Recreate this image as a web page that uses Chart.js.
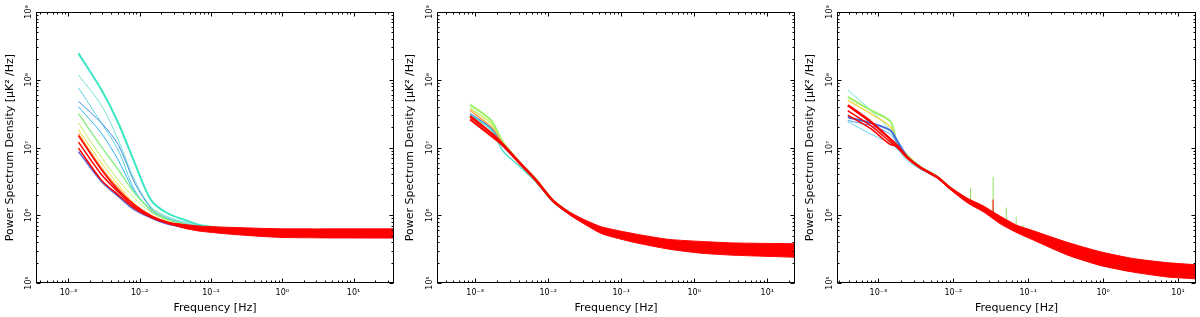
<!DOCTYPE html>
<html>
<head>
<meta charset="utf-8">
<script src="https://cdn.jsdelivr.net/npm/chart.js@4.4.1/dist/chart.umd.min.js"></script>
<style>
  body { margin: 0; background: #fff; }
  .panel { position: absolute; top: 0; width: 400px; height: 317px; }
</style>
</head>
<body>
<div class="panel" style="left:0"><canvas id="c1" width="400" height="317"></canvas></div>
<div class="panel" style="left:400px"><canvas id="c2" width="400" height="317"></canvas></div>
<div class="panel" style="left:800px"><canvas id="c3" width="400" height="317"></canvas></div>
<script>
// tick labels
var xDecades = [1e-3, 1e-2, 1e-1, 1, 10];
var xTickLabels = ['10⁻³', '10⁻²', '10⁻¹', '10⁰', '10¹'];
var yDecades = [1e5, 1e6, 1e7, 1e8, 1e9];
var yTickLabels = ['10⁵', '10⁶', '10⁷', '10⁸', '10⁹'];

// axis limits per panel
var xMin = [3.5e-4, 3.3e-4, 2.8e-4];
var xMax = [37, 24, 17.4];

// ---- panel 1 ----
var freq1 = [1.38e-3, 2.9e-3, 5.0e-3, 8.5e-3, 1.45e-2, 2.45e-2, 4.3e-2, 7.2e-2, 0.21, 1, 37];
var p1Navy   = [8.7e6, 3.16e6, 1.9e6, 1.2e6, 9.1e5, 7.4e5, 6.6e5, 6.2e5, 5.75e5, 5.5e5, 5.4e5];
var p1Cyan   = [2.45e8, 7.1e7, 2.3e7, 5.9e6, 1.66e6, 1.07e6, 8.5e5, 7.1e5, 6.2e5, 5.6e5, 5.5e5];
var p1Cyan2  = [1.17e8, 4.2e7, 1.29e7, 3.3e6, 1.32e6, 9.5e5, 7.9e5, 6.8e5, 6.0e5, 5.6e5, 5.5e5];
var p1Cyan3  = [7.6e7, 2.3e7, 9.1e6, 2.34e6, 1.2e6, 9.1e5, 7.6e5, 6.6e5, 6.0e5, 5.6e5, 5.5e5];
var p1Blue   = [4.8e7, 2.3e7, 1.1e7, 3.0e6, 1.26e6, 8.9e5, 7.4e5, 6.6e5, 6.0e5, 5.6e5, 5.5e5];
var p1Blue2  = [4.0e7, 1.62e7, 6.5e6, 2.2e6, 1.15e6, 8.7e5, 7.3e5, 6.5e5, 6.0e5, 5.6e5, 5.5e5];
var p1Green  = [3.16e7, 1.02e7, 4.7e6, 2.1e6, 1.2e6, 8.7e5, 7.4e5, 6.6e5, 6.0e5, 5.6e5, 5.5e5];
var p1Lime   = [2.3e7, 7.2e6, 3.3e6, 1.78e6, 1.1e6, 8.3e5, 7.2e5, 6.5e5, 6.0e5, 5.6e5, 5.5e5];
var p1Yellow = [1.82e7, 5.9e6, 2.82e6, 1.48e6, 1.0e6, 7.9e5, 6.9e5, 6.3e5, 5.9e5, 5.6e5, 5.5e5];
var p1Orange = [1.58e7, 5.0e6, 2.5e6, 1.41e6, 9.8e5, 7.8e5, 6.8e5, 6.3e5, 5.9e5, 5.6e5, 5.5e5];
var p1RedTop = [1.5e7, 4.7e6, 2.34e6, 1.41e6, 9.8e5, 7.9e5, 6.9e5, 6.3e5, 5.75e5, 5.5e5, 5.4e5];
var p1RedMid = [1.2e7, 4.0e6, 2.2e6, 1.32e6, 9.5e5, 7.8e5, 6.8e5, 6.3e5, 5.75e5, 5.5e5, 5.4e5];
var p1RedLow = [9.8e6, 3.3e6, 2.0e6, 1.26e6, 9.3e5, 7.6e5, 6.8e5, 6.2e5, 5.75e5, 5.5e5, 5.4e5];
var freq1Band  = [2.45e-2, 4.3e-2, 7.2e-2, 0.21, 1, 37];
var p1BandHigh = [7.8e5, 7.3e5, 6.9e5, 6.6e5, 6.3e5, 6.3e5];
var p1BandLow  = [7.6e5, 6.4e5, 5.8e5, 5.2e5, 4.7e5, 4.6e5];

// ---- panel 2 ----
var freq2 = [8.5e-4, 1.66e-3, 2.4e-3, 4.1e-3, 6.8e-3, 1.15e-2, 1.95e-2, 3.2e-2, 5.5e-2, 0.155, 0.45, 1.26, 3.5, 24];
var p2Green  = [4.3e7, 2.5e7, 1.2e7, 6.0e6, 3.4e6, 1.7e6, 1.1e6, 8.1e5, 6.2e5, 4.7e5, 3.8e5, 3.4e5, 3.2e5, 3.05e5];
var p2Lime   = [3.8e7, 2.24e7, 1.12e7, 5.9e6, 3.3e6, 1.66e6, 1.07e6, 7.9e5, 6.0e5, 4.6e5, 3.7e5, 3.3e5, 3.16e5, 3.0e5];
var p2Orange = [3.55e7, 2.0e7, 1.15e7, 6.0e6, 3.35e6, 1.68e6, 1.08e6, 8.0e5, 6.1e5, 4.6e5, 3.7e5, 3.3e5, 3.16e5, 3.0e5];
var p2Blue   = [3.16e7, 1.9e7, 1.05e7, 5.8e6, 3.25e6, 1.65e6, 1.06e6, 7.9e5, 6.0e5, 4.6e5, 3.7e5, 3.3e5, 3.16e5, 3.0e5];
var p2Cyan   = [3.0e7, 1.82e7, 8.9e6, 5.2e6, 3.1e6, 1.6e6, 1.05e6, 7.8e5, 6.0e5, 4.6e5, 3.7e5, 3.3e5, 3.16e5, 3.0e5];
var p2Red    = [2.9e7, 1.62e7, 1.1e7, 5.9e6, 3.3e6, 1.66e6, 1.07e6, 7.9e5, 6.0e5, 4.6e5, 3.7e5, 3.3e5, 3.16e5, 3.0e5];
var p2Red2   = [2.6e7, 1.48e7, 1.07e7, 5.8e6, 3.25e6, 1.64e6, 1.06e6, 7.8e5, 6.0e5, 4.6e5, 3.7e5, 3.3e5, 3.16e5, 3.0e5];
var freq2Band  = [1.15e-2, 1.95e-2, 3.2e-2, 5.5e-2, 0.155, 0.45, 1.26, 3.5, 24];
var p2BandHigh = [1.67e6, 1.12e6, 8.5e5, 6.7e5, 5.3e5, 4.4e5, 4.1e5, 3.9e5, 3.8e5];
var p2BandLow  = [1.65e6, 1.02e6, 7.3e5, 5.3e5, 3.95e5, 3.16e5, 2.75e5, 2.57e5, 2.4e5];

// ---- panel 3 ----
var freq3 = [3.9e-4, 7.9e-4, 1.45e-3, 1.78e-3, 2.45e-3, 3.6e-3, 6.2e-3, 9.1e-3, 1.55e-2, 2.5e-2, 4.3e-2, 7.1e-2, 0.117, 0.33, 0.91, 2.5, 7.1, 17.4];
var p3Cyan    = [7.1e7, 3.55e7, 1.78e7, 1.12e7, 7.1e6, 5.1e6, 3.6e6, 2.5e6, 1.66e6, 1.26e6, 8.5e5, 6.3e5, 5.1e5, 3.2e5, 2.3e5, 1.82e5, 1.55e5, 1.45e5];
var p3Green   = [5.6e7, 3.55e7, 2.4e7, 1.17e7, 7.6e6, 5.25e6, 3.7e6, 2.55e6, 1.7e6, 1.28e6, 8.6e5, 6.4e5, 5.2e5, 3.25e5, 2.35e5, 1.85e5, 1.58e5, 1.48e5];
var p3Yellow  = [5.0e7, 3.16e7, 2.0e7, 1.15e7, 7.4e6, 5.2e6, 3.6e6, 2.5e6, 1.66e6, 1.26e6, 8.5e5, 6.3e5, 5.1e5, 3.2e5, 2.3e5, 1.82e5, 1.55e5, 1.45e5];
var p3Blue    = [2.8e7, 2.3e7, 1.78e7, 1.26e7, 7.2e6, 5.1e6, 3.6e6, 2.5e6, 1.66e6, 1.26e6, 8.5e5, 6.3e5, 5.1e5, 3.2e5, 2.3e5, 1.82e5, 1.55e5, 1.45e5];
var p3Blue2   = [2.5e7, 2.1e7, 1.58e7, 1.15e7, 7.1e6, 5.0e6, 3.6e6, 2.5e6, 1.66e6, 1.26e6, 8.5e5, 6.3e5, 5.1e5, 3.2e5, 2.3e5, 1.82e5, 1.55e5, 1.45e5];
var p3CyanLow = [2.4e7, 1.58e7, 1.15e7, 9.5e6, 6.3e6, 4.8e6, 3.5e6, 2.45e6, 1.64e6, 1.25e6, 8.5e5, 6.3e5, 5.1e5, 3.2e5, 2.3e5, 1.82e5, 1.55e5, 1.45e5];
var p3Red     = [4.2e7, 2.4e7, 1.32e7, 1.07e7, 7.1e6, 5.1e6, 3.6e6, 2.5e6, 1.66e6, 1.26e6, 8.5e5, 6.3e5, 5.1e5, 3.2e5, 2.3e5, 1.82e5, 1.55e5, 1.45e5];
var p3Red2    = [3.0e7, 1.9e7, 1.1e7, 1.06e7, 7.0e6, 5.0e6, 3.6e6, 2.5e6, 1.66e6, 1.26e6, 8.5e5, 6.3e5, 5.1e5, 3.2e5, 2.3e5, 1.82e5, 1.55e5, 1.45e5];
var p3Red3    = [3.5e7, 2.1e7, 1.2e7, 1.0e7, 6.9e6, 5.1e6, 3.6e6, 2.5e6, 1.66e6, 1.26e6, 8.5e5, 6.3e5, 5.1e5, 3.2e5, 2.3e5, 1.82e5, 1.55e5, 1.45e5];
var freq3Band  = [6.2e-3, 9.1e-3, 1.55e-2, 2.5e-2, 4.3e-2, 7.1e-2, 0.117, 0.33, 0.91, 2.5, 7.1, 17.4];
var p3BandHigh = [3.65e6, 2.6e6, 1.78e6, 1.38e6, 9.6e5, 7.1e5, 5.9e5, 4.0e5, 2.9e5, 2.3e5, 2.0e5, 1.86e5];
var p3BandLow  = [3.55e6, 2.4e6, 1.52e6, 1.13e6, 7.4e5, 5.5e5, 4.3e5, 2.6e5, 1.82e5, 1.45e5, 1.23e5, 1.15e5];
// narrow lines in panel 3
var spikeFreq3 = [1.7e-2, 3.4e-2, 5.1e-2, 6.9e-2, 8.5e-2, 0.21];
var spikeBase3 = [1.6e6, 1.0e6, 7.6e5, 6.3e5, 5.6e5, 4.0e5];
var spikeTop3  = [2.5e6, 3.7e6, 1.3e6, 9.5e5, 7.1e5, 4.6e5];
var redSpikeFreq3 = [3.4e-2];
var redSpikeBase3 = [1.0e6];
var redSpikeTop3  = [1.7e6];

var FONT = '"DejaVu Sans", "Bitstream Vera Sans", sans-serif';
var RED = 'rgb(255,0,0)';

function series(xs, ys, color, width) {
  return {
    data: xs.map(function (x, i) { return { x: x, y: ys[i] }; }),
    borderColor: color, borderWidth: width || 1,
    pointRadius: 0, tension: 0.3, fill: false
  };
}

function band(xs, hi, lo) {
  var top = series(xs, hi, RED, 1);
  var bottom = series(xs, lo, RED, 1);
  top.tension = 0.2; bottom.tension = 0.2;
  bottom.fill = '-1';
  bottom.backgroundColor = RED;
  return [top, bottom];
}

function spikes(xs, base, tops, color) {
  var pts = [];
  xs.forEach(function (x, i) {
    pts.push({ x: x, y: base[i] }, { x: x, y: tops[i] }, { x: x, y: null });
  });
  return { data: pts, borderColor: color, borderWidth: 1, pointRadius: 0, tension: 0, fill: false, spanGaps: false };
}

function logTicks(min, max) {
  var out = [];
  for (var e = Math.floor(Math.log10(min)); e <= Math.ceil(Math.log10(max)); e++) {
    for (var m = 1; m < 10; m++) {
      var v = m * Math.pow(10, e);
      if (v >= min * 0.999 && v <= max * 1.001) out.push({ value: v, major: m === 1 });
    }
  }
  return out;
}

function decadeLabel(value) {
  for (var i = 0; i < xDecades.length; i++) {
    if (Math.abs(value - xDecades[i]) / xDecades[i] < 1e-6) return xTickLabels[i];
  }
  return '';
}

// box, inward ticks, rotated y labels
var framePlugin = {
  id: 'frame',
  afterDatasetsDraw: function (chart) {
    var ctx = chart.ctx, a = chart.chartArea;
    var xs = chart.scales.x, ys = chart.scales.y;
    var L = Math.round(a.left) + 0.5, R = Math.round(a.right) - 0.5;
    var T = Math.round(a.top) + 0.5, B = Math.round(a.bottom) - 0.5;
    ctx.save();
    ctx.strokeStyle = '#000';
    ctx.lineWidth = 1;
    ctx.strokeRect(L, T, R - L, B - T);
    ctx.beginPath();
    xs.ticks.forEach(function (t) {
      var px = Math.round(xs.getPixelForValue(t.value)) + 0.5;
      var len = t.major ? 4 : 2;
      ctx.moveTo(px, B); ctx.lineTo(px, B - len);
      ctx.moveTo(px, T); ctx.lineTo(px, T + len);
    });
    ys.ticks.forEach(function (t) {
      var py = Math.round(ys.getPixelForValue(t.value)) + 0.5;
      var len = t.major ? 4 : 2;
      ctx.moveTo(L, py); ctx.lineTo(L + len, py);
      ctx.moveTo(R, py); ctx.lineTo(R - len, py);
    });
    ctx.stroke();
    ctx.fillStyle = '#000';
    ctx.font = '8px ' + FONT;
    ctx.textAlign = 'center';
    ctx.textBaseline = 'middle';
    yDecades.forEach(function (v, i) {
      ctx.save();
      ctx.translate(a.left - 7, ys.getPixelForValue(v));
      ctx.rotate(-Math.PI / 2);
      ctx.fillText(yTickLabels[i], 0, 0);
      ctx.restore();
    });
    ctx.restore();
  }
};

function makePanel(id, idx, datasets, yWidth, padRight) {
  var n = datasets.length;
  datasets.forEach(function (d, i) { d.order = n - i; }); // first in list = drawn first
  new Chart(document.getElementById(id), {
    type: 'line',
    data: { datasets: datasets },
    options: {
      responsive: false,
      animation: false,
      devicePixelRatio: 1,
      layout: { padding: { top: 12, right: padRight, left: 0, bottom: 0 } },
      plugins: { legend: { display: false }, tooltip: { enabled: false } },
      scales: {
        x: {
          type: 'logarithmic', min: xMin[idx], max: xMax[idx],
          grid: { display: false, drawTicks: false }, border: { display: false },
          afterBuildTicks: function (s) { s.ticks = logTicks(s.min, s.max); },
          afterFit: function (s) { s.height = 34; },
          ticks: {
            autoSkip: false, maxRotation: 0, minRotation: 0, padding: 5, color: '#000',
            font: { family: FONT, size: 8 }, callback: decadeLabel
          },
          title: { display: true, text: 'Frequency [Hz]', color: '#000', font: { family: FONT, size: 11 }, padding: { top: 0, bottom: 2 } }
        },
        y: {
          type: 'logarithmic', min: 1e5, max: 1e9,
          grid: { display: false, drawTicks: false }, border: { display: false },
          afterBuildTicks: function (s) { s.ticks = logTicks(s.min, s.max); },
          afterFit: function (s) { s.width = yWidth; },
          ticks: { display: false },
          title: { display: true, text: 'Power Spectrum Density [μK² /Hz]', color: '#000', font: { family: FONT, size: 11 }, padding: { top: 4, bottom: 0 } }
        }
      }
    },
    plugins: [framePlugin]
  });
}

makePanel('c1', 0, [
  series(freq1, p1Navy, 'rgba(70,70,200,0.85)', 1.5),
  series(freq1, p1Cyan, '#3ee6c4', 2),
  series(freq1, p1Cyan2, '#74e2d2', 1),
  series(freq1, p1Cyan3, '#5ad4e6', 1),
  series(freq1, p1Blue, '#3c8ce6', 1),
  series(freq1, p1Blue2, '#2cb2f0', 1),
  series(freq1, p1Green, '#8ef08a', 1.5),
  series(freq1, p1Lime, '#bcf060', 1),
  series(freq1, p1Yellow, '#f0d848', 1),
  series(freq1, p1Orange, '#ff9a3a', 1.5),
  series(freq1, p1RedTop, RED, 1.5),
  series(freq1, p1RedMid, RED, 1.5),
  series(freq1, p1RedLow, RED, 1.5)
].concat(band(freq1Band, p1BandHigh, p1BandLow)), 36, 6);

makePanel('c2', 1, [
  series(freq2, p2Green, '#9cf06c', 2),
  series(freq2, p2Lime, '#c8f060', 1.5),
  series(freq2, p2Orange, '#ffa040', 1.5),
  series(freq2, p2Blue, '#5a8ce0', 1.5),
  series(freq2, p2Cyan, '#50e0c8', 1.5),
  series(freq2, p2Red, RED, 2.5),
  series(freq2, p2Red2, RED, 2)
].concat(band(freq2Band, p2BandHigh, p2BandLow)), 37, 5);

makePanel('c3', 2, [
  series(freq3, p3Cyan, '#6ce8e0', 1),
  series(freq3, p3Green, '#9cf06c', 2),
  series(freq3, p3Yellow, '#f0d848', 1.5),
  series(freq3, p3CyanLow, '#60d8f0', 1),
  series(freq3, p3Blue2, '#4aa0f0', 1),
  series(freq3, p3Blue, '#3c70dc', 2),
  series(freq3, p3Red2, RED, 1.5),
  series(freq3, p3Red3, RED, 1.5),
  series(freq3, p3Red, RED, 2.5),
  spikes(spikeFreq3, spikeBase3, spikeTop3, '#8ee060')
].concat(band(freq3Band, p3BandHigh, p3BandLow), [
  spikes(redSpikeFreq3, redSpikeBase3, redSpikeTop3, RED)
]), 37, 4);
</script>
</body>
</html>
